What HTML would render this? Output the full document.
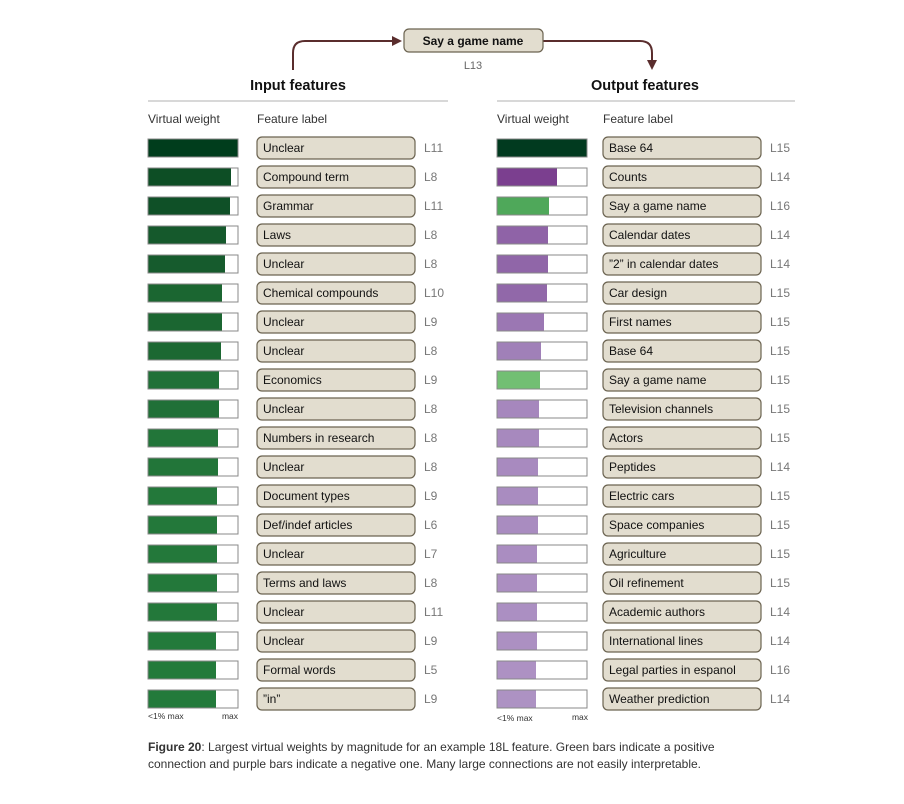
<!DOCTYPE html><html><head><style>body{margin:0;background:#fff}svg text{font-family:"Liberation Sans",sans-serif}</style></head><body>
<svg width="904" height="799" xmlns="http://www.w3.org/2000/svg">
<defs><marker id="a" markerUnits="userSpaceOnUse" markerWidth="10" markerHeight="10" refX="6" refY="5" orient="auto"><path d="M0,0L10,5L0,10z" fill="#5a2d2d"/></marker></defs>
<path d="M293,70 V53 Q293,41 305,41 H398" fill="none" stroke="#5a2d2d" stroke-width="2" marker-end="url(#a)"/>
<path d="M543,41 H640 Q652,41 652,53 V66" fill="none" stroke="#5a2d2d" stroke-width="2" marker-end="url(#a)"/>
<rect x="404" y="29" width="139" height="23" rx="5" fill="#e2ddcf" stroke="#6b6350" stroke-width="1.2"/>
<text x="473" y="45" font-size="12" font-weight="bold" text-anchor="middle" fill="#111">Say a game name</text>
<text x="473" y="69" font-size="11" text-anchor="middle" fill="#666">L13</text>
<text x="298" y="90" font-size="14.5" font-weight="bold" text-anchor="middle" fill="#111">Input features</text>
<text x="645" y="90" font-size="14.5" font-weight="bold" text-anchor="middle" fill="#111">Output features</text>
<line x1="148" y1="101" x2="448" y2="101" stroke="#ccc" stroke-width="1.5"/>
<line x1="497" y1="101" x2="795" y2="101" stroke="#ccc" stroke-width="1.5"/>
<g font-size="12" fill="#333"><text x="148" y="123">Virtual weight</text><text x="257" y="123">Feature label</text><text x="497" y="123">Virtual weight</text><text x="603" y="123">Feature label</text></g>
<g id="rows"></g>
<g font-size="8.5" fill="#333"><text x="148" y="719">&lt;1% max</text><text x="238" y="719" text-anchor="end">max</text><text x="497" y="721">&lt;1% max</text><text x="588" y="720" text-anchor="end">max</text></g>
<text x="148" y="751" font-size="12" fill="#333"><tspan font-weight="bold">Figure 20</tspan>: Largest virtual weights by magnitude for an example 18L feature. Green bars indicate a positive</text>
<text x="148" y="768" font-size="12" fill="#333">connection and purple bars indicate a negative one. Many large connections are not easily interpretable.</text>
</svg>
<script>
var L=[["Unclear","L11",90,"#003d1c"],["Compound term","L8",83,"#0d4e25"],["Grammar","L11",82,"#0f5027"],["Laws","L8",78,"#15592c"],["Unclear","L8",77,"#165b2d"],["Chemical compounds","L10",74,"#1b6631"],["Unclear","L9",74,"#1b6631"],["Unclear","L8",73,"#1c6832"],["Economics","L9",71,"#207037"],["Unclear","L8",71,"#207037"],["Numbers in research","L8",70,"#227539"],["Unclear","L8",70,"#227539"],["Document types","L9",69,"#23783a"],["Def/indef articles","L6",69,"#23783a"],["Unclear","L7",69,"#23783a"],["Terms and laws","L8",69,"#23783a"],["Unclear","L11",69,"#23783a"],["Unclear","L9",68,"#237a3b"],["Formal words","L5",68,"#237a3b"],["\u201din\u201d","L9",68,"#237a3b"]];
var R=[["Base 64","L15",90,"#013a1f"],["Counts","L14",60,"#7b3f8f"],["Say a game name","L16",52,"#4fa85a"],["Calendar dates","L14",51,"#8f63a7"],["\u201d2\u201d in calendar dates","L14",51,"#9066a8"],["Car design","L15",50,"#9168a9"],["First names","L15",47,"#9b77b3"],["Base 64","L15",44,"#a080b8"],["Say a game name","L15",43,"#72bf73"],["Television channels","L15",42,"#a687bd"],["Actors","L15",42,"#a789be"],["Peptides","L14",41,"#a88abf"],["Electric cars","L15",41,"#a98cc0"],["Space companies","L15",41,"#a98cc0"],["Agriculture","L15",40,"#aa8dc1"],["Oil refinement","L15",40,"#ab8ec1"],["Academic authors","L14",40,"#ab8fc2"],["International lines","L14",40,"#ac90c2"],["Legal parties in espanol","L16",39,"#ad91c3"],["Weather prediction","L14",39,"#ad92c3"]];
var s="";function row(d,i,bx,lx,tx){var c=148+29*i;s+='<rect x="'+bx+'" y="'+(c-9)+'" width="90" height="18" fill="#fff" stroke="#888"/><rect x="'+bx+'" y="'+(c-9)+'" width="'+d[2]+'" height="18" fill="'+d[3]+'"/><rect x="'+bx+'" y="'+(c-9)+'" width="90" height="18" fill="none" stroke="#888"/>';
s+='<rect x="'+lx+'" y="'+(c-11)+'" width="158" height="22" rx="5" fill="#e2ddcf" stroke="#6b6350" stroke-width="1.2"/><text x="'+(lx+6)+'" y="'+(c+4)+'" font-size="12" fill="#111">'+d[0]+'</text><text x="'+tx+'" y="'+(c+4)+'" font-size="12" fill="#777">'+d[1]+'</text>';}
L.forEach(function(d,i){row(d,i,148,257,424)});R.forEach(function(d,i){row(d,i,497,603,770)});
document.getElementById("rows").innerHTML=s;
</script></body></html>
